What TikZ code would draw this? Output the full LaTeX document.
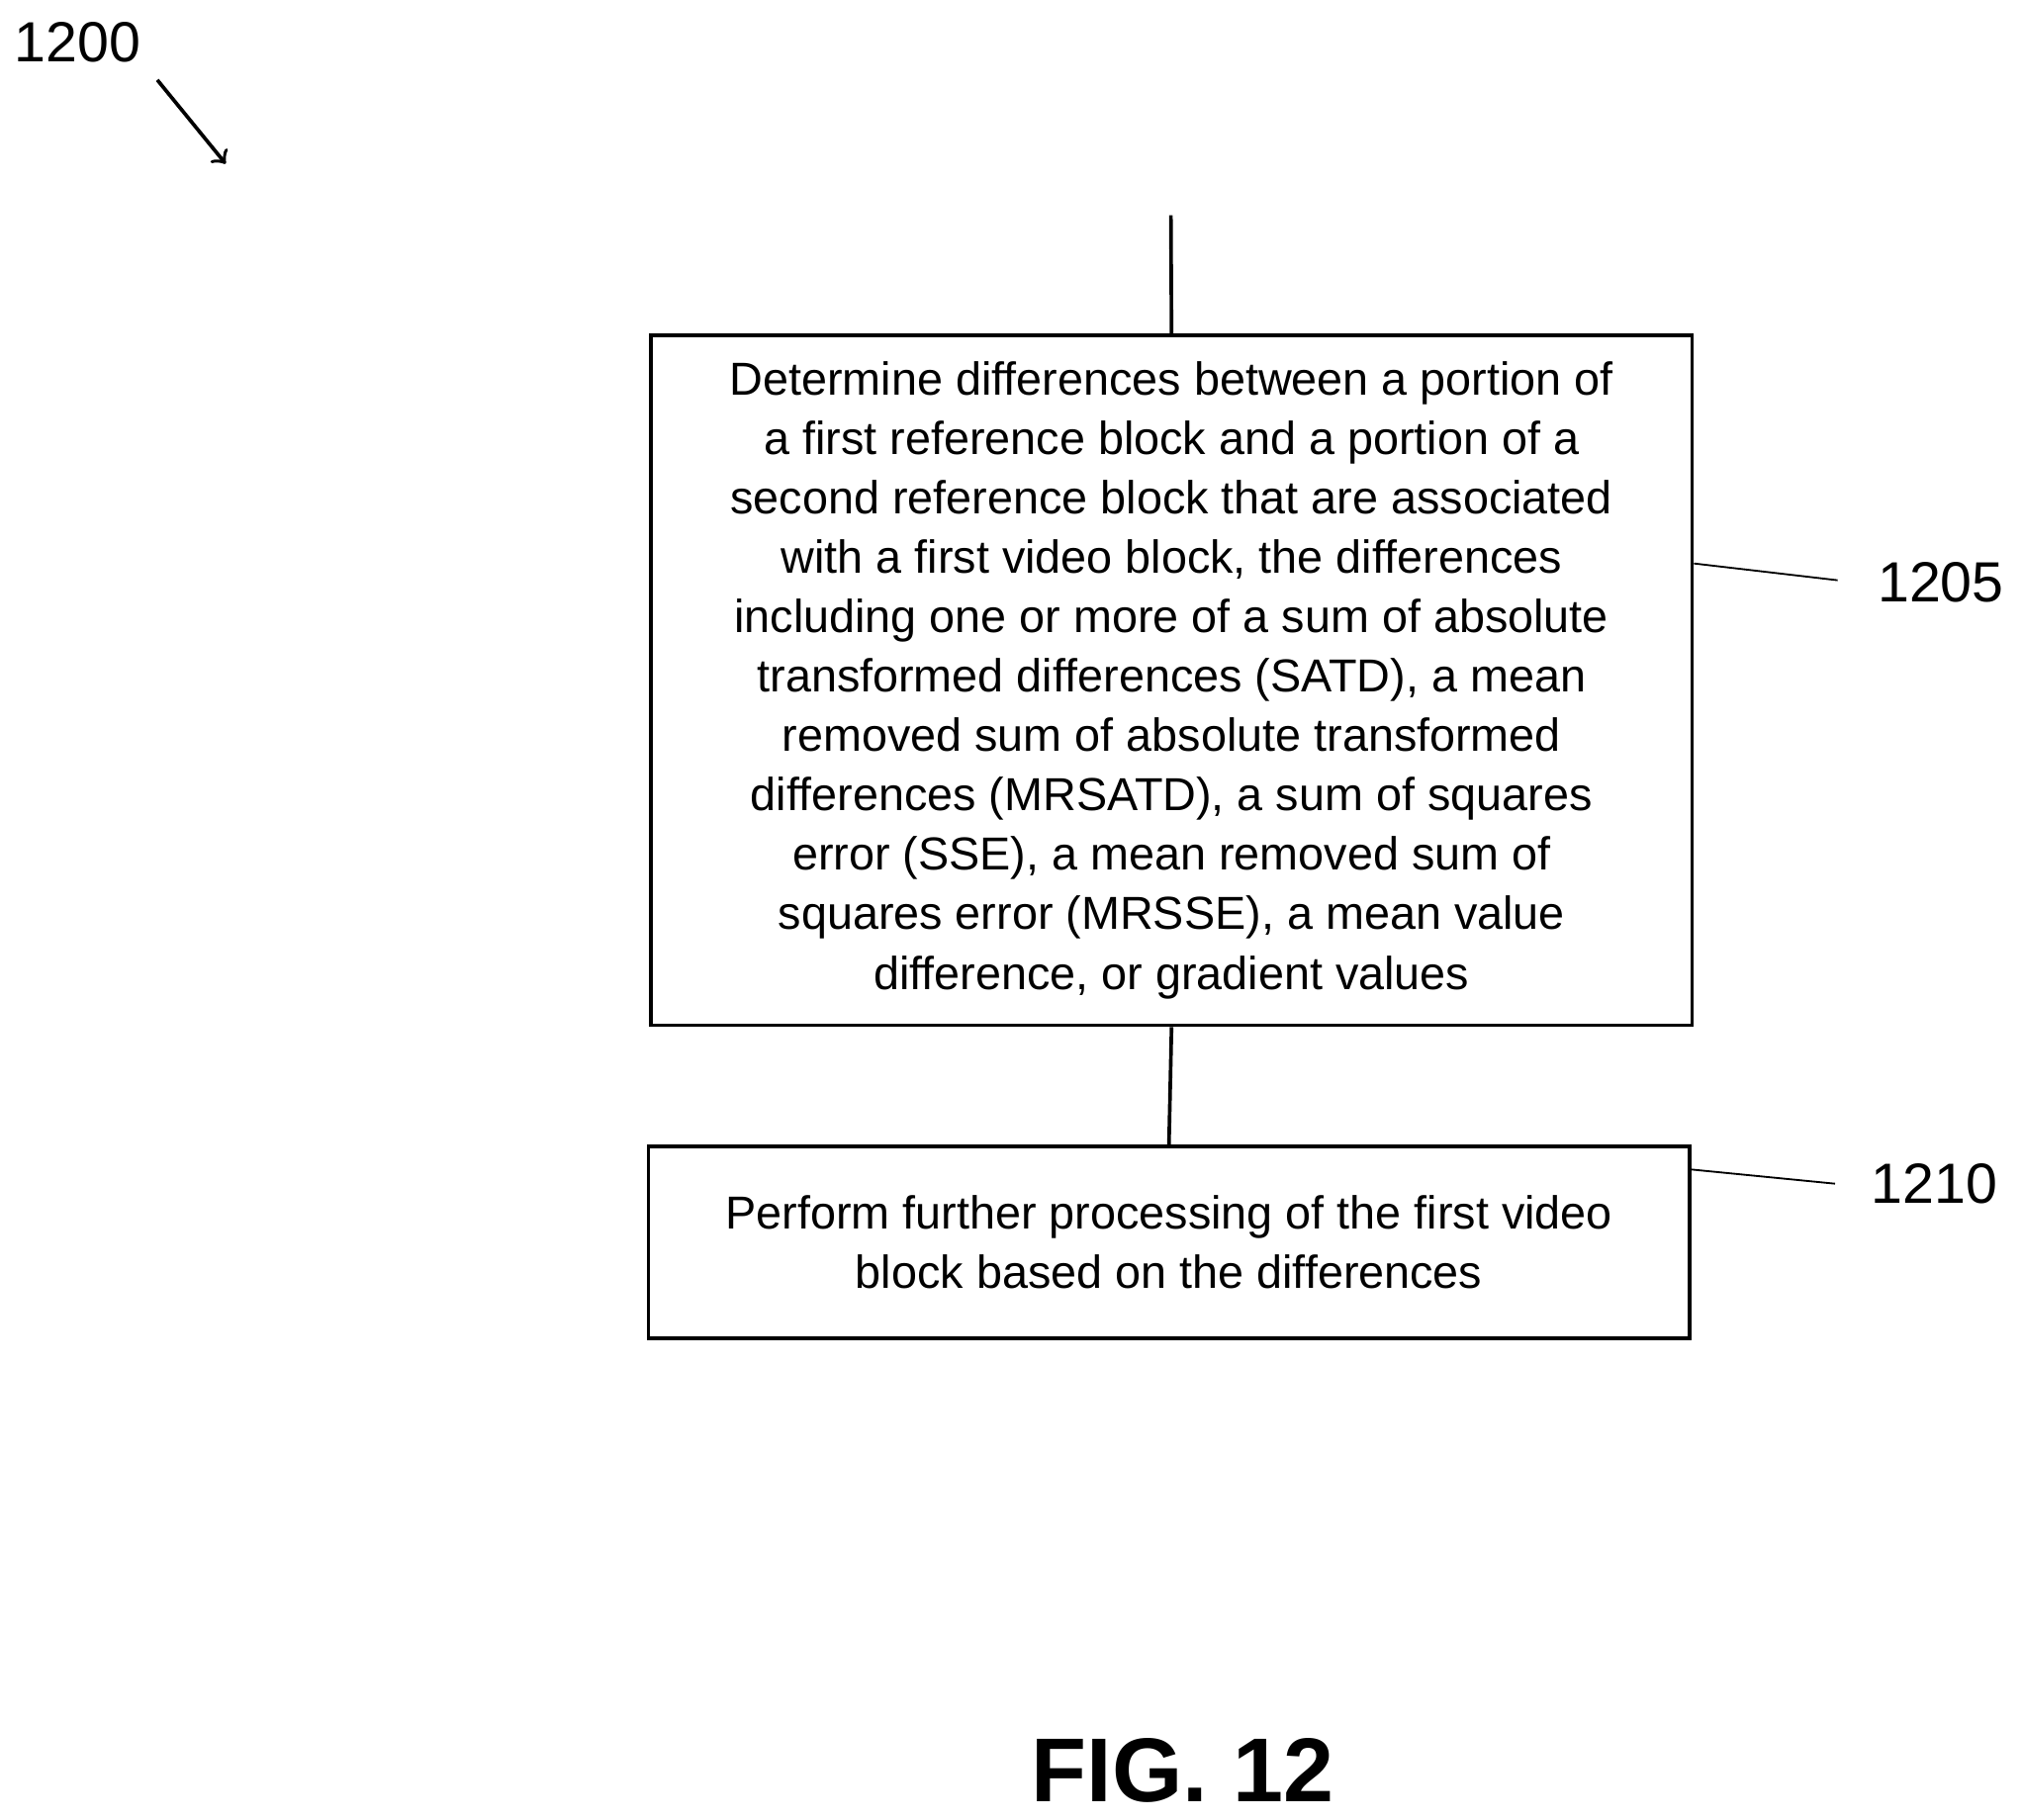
\documentclass[tikz,border=0pt]{standalone}
\usepackage{fontspec}
\setmainfont{Liberation Sans}
\usetikzlibrary{positioning}
\tikzset{
  korak/.style={draw,thick,align=center,font=\fontsize{10.2}{13.1}\selectfont,inner sep=0pt},
  lbl/.style={font=\fontsize{12.5}{14}\selectfont}
}
\begin{document}
\begin{tikzpicture}[x=0.01cm,y=-0.01cm]
\useasboundingbox (0,0) rectangle (1568,1411);

%kraki
\node[korak,minimum width=8.07cm,minimum height=5.35cm] (determine) at (908.5,527.5) {Determine differences between a portion of\\ a first reference block and a portion of a\\ second reference block that are associated\\ with a first video block, the differences\\ including one or more of a sum of absolute\\ transformed differences (SATD), a mean\\ removed sum of absolute transformed\\ differences (MRSATD), a sum of squares\\ error (SSE), a mean removed sum of\\ squares error (MRSSE), a mean value\\ difference, or gradient values};
\node[korak,minimum width=8.07cm,minimum height=1.49cm] (process) at (906.5,963.5) {Perform further processing of the first video\\ block based on the differences};

\coordinate (start) at (908,167);
\draw[thick] (start) -- (determine.north);
\draw[thick] (determine.south) -- (process.north);

%oznake
\node[lbl] (n1205) at (1505,452) {1205};
\node[lbl] (n1210) at (1500,918) {1210};
\node[lbl] (n1200) at (60,33) {1200};
\draw (determine.east |- 0,437) -- (1425,450);
\draw (process.east |- 0,907) -- (1423,918);
\coordinate (a1) at (122,62);
\coordinate (a2) at (175,127);
\draw[thick,->] (a1) -- (a2);

\node[font=\fontsize{20}{24}\selectfont\bfseries] (fig) at (917,1373) {FIG. 12};
\end{tikzpicture}
\end{document}
